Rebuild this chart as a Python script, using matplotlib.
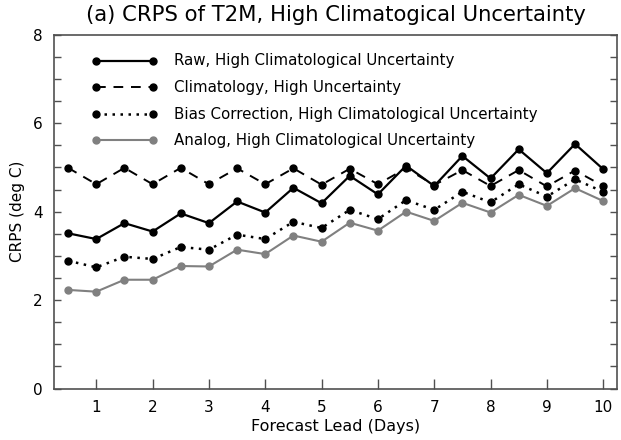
import numpy as np
import matplotlib
matplotlib.use("Agg")
import matplotlib.pyplot as plt
from matplotlib.ticker import MultipleLocator

# forecast lead in days, 12-hourly
lead = [0.5, 1.0, 1.5, 2.0, 2.5, 3.0, 3.5, 4.0, 4.5, 5.0,
        5.5, 6.0, 6.5, 7.0, 7.5, 8.0, 8.5, 9.0, 9.5, 10.0]

crps_raw = [3.51, 3.38, 3.74, 3.55, 3.96, 3.74, 4.23, 3.98, 4.54, 4.19,
            4.81, 4.39, 5.04, 4.58, 5.26, 4.75, 5.41, 4.87, 5.53, 4.96]
crps_clim = [4.99, 4.62, 4.99, 4.62, 4.99, 4.62, 4.98, 4.62, 4.98, 4.61,
             4.97, 4.62, 4.98, 4.60, 4.94, 4.58, 4.94, 4.57, 4.93, 4.58]
crps_bias = [2.89, 2.74, 2.98, 2.93, 3.20, 3.14, 3.48, 3.38, 3.77, 3.63,
             4.04, 3.83, 4.26, 4.04, 4.45, 4.21, 4.62, 4.34, 4.73, 4.45]
crps_analog = [2.23, 2.19, 2.46, 2.46, 2.77, 2.76, 3.14, 3.04, 3.46, 3.32,
               3.75, 3.57, 4.00, 3.79, 4.20, 3.98, 4.38, 4.13, 4.53, 4.24]

labels = ["Raw, High Climatological Uncertainty",
          "Climatology, High Uncertainty",
          "Bias Correction, High Climatological Uncertainty",
          "Analog, High Climatological Uncertainty"]

AXC = "#505050"
MS = 5.0

fig = plt.figure(figsize=(6.21, 4.40), dpi=100)
ax = fig.add_axes([0.087, 0.117, 0.907, 0.804])

style = [
    (crps_raw, "black", "-", 1.6),
    (crps_clim, "black", (0, (5, 4)), 1.4),
    (crps_bias, "black", (0, (1, 2.2)), 1.8),
    (crps_analog, "#808080", "-", 1.5),
]
for vals, col, ls, lw in style:
    ax.plot(lead, vals, color=col, ls=ls, lw=lw, marker="o", ms=MS,
            mec=col, mfc=col)

ax.set_xlim(0.25, 10.25)
ax.set_ylim(0, 8)
ax.xaxis.set_major_locator(MultipleLocator(1))
ax.yaxis.set_major_locator(MultipleLocator(2))
ax.yaxis.set_minor_locator(MultipleLocator(0.5))
ax.tick_params(axis="both", which="both", direction="in", color=AXC,
               labelsize=11, width=1.0)
ax.tick_params(axis="x", which="major", length=7, pad=8, top=False)
ax.tick_params(axis="y", which="both", length=5, pad=8, left=True, right=True)
for s in ax.spines.values():
    s.set_color(AXC)
    s.set_linewidth(1.2)

ax.set_xlabel("Forecast Lead (Days)", fontsize=11.5, labelpad=3)
ax.set_ylabel("CRPS (deg C)", fontsize=11, labelpad=6)
fig.text(0.541, 0.965, "(a) CRPS of T2M, High Climatogical Uncertainty",
         ha="center", va="center", fontsize=15.2)

# legend drawn by hand: short line with dots at each end, text to the right
for i, ((vals, col, ls, lw), lab) in enumerate(zip(style, labels)):
    yf = 1 - (61 + i * 26.5) / 440
    fig.add_artist(plt.Line2D([96 / 621, 153 / 621], [yf, yf],
                              color=col, ls=ls, lw=lw, marker="o", ms=MS,
                              transform=fig.transFigure))
    fig.text(174 / 621, yf, lab, ha="left", va="center", fontsize=10.8)

fig.savefig("out.png", dpi=100)
